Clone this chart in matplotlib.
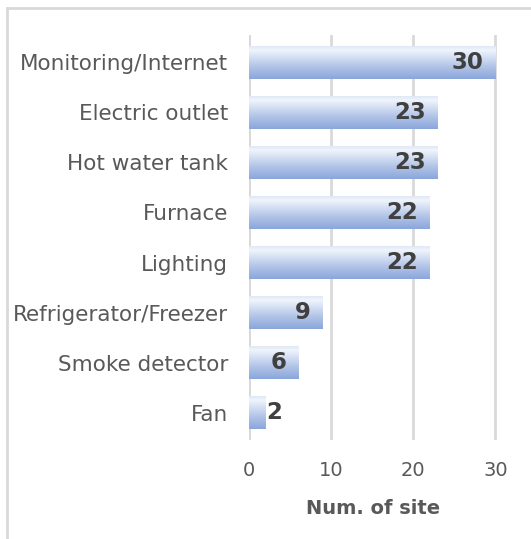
import matplotlib
matplotlib.use("Agg")
import matplotlib.pyplot as plt
import numpy as np
from matplotlib.colors import LinearSegmentedColormap
from matplotlib.lines import Line2D

plt.rcParams["font.family"] = ["DejaVu Sans"]

categories = ["Monitoring/Internet", "Electric outlet", "Hot water tank", "Furnace",
              "Lighting", "Refrigerator/Freezer", "Smoke detector", "Fan"]
values = [30, 23, 23, 22, 22, 9, 6, 2]
xticks = [0, 10, 20, 30]
xlabel = "Num. of site"

W, H = 531, 539
fig = plt.figure(figsize=(W / 100, H / 100), dpi=100)
ax = fig.add_axes([249 / W, 99 / H, 248 / W, 405 / H])

grad = LinearSegmentedColormap.from_list(
    "barfill",
    [(0.0, (0.86, 0.89, 0.96)), (0.15, (0.94, 0.96, 0.99)),
     (0.6, (0.71, 0.78, 0.91)), (1.0, (0.54, 0.65, 0.86))])

ypos = np.arange(len(categories))
bars = ax.barh(ypos, values, height=0.66, facecolor="none", edgecolor="none", zorder=3)
g = np.linspace(0, 1, 256).reshape(-1, 1)
for b in bars:
    x0, y0 = b.get_x(), b.get_y()
    w, h = b.get_width(), b.get_height()
    im = ax.imshow(g, cmap=grad, aspect="auto", extent=[x0, x0 + w, y0 + h, y0],
                   origin="upper", zorder=3, interpolation="bilinear")
    im.set_clip_path(b)

ax.set_xlim(0, 30.2)
ax.set_ylim(len(categories) - 0.46, -0.54)
ax.set_xticks(xticks)
ax.set_yticks(ypos)
ax.set_yticklabels(categories)

for sp in ax.spines.values():
    sp.set_visible(False)
ax.grid(axis="x", color="#d9d9d9", linewidth=2, zorder=0)
ax.axvline(0, color="#d9d9d9", linewidth=2, zorder=1)
ax.tick_params(axis="both", length=0, labelcolor="#595959")
ax.tick_params(axis="y", pad=15, labelsize=15.5)
ax.tick_params(axis="x", pad=15, labelsize=14)
ax.set_xlabel(xlabel, fontsize=14, fontweight="bold", color="#595959", labelpad=14)

for b, v in zip(bars, values):
    yc = b.get_y() + b.get_height() / 2
    if v >= 5:
        ax.annotate(str(v), (v, yc), xytext=(-12, 0), textcoords="offset pixels",
                    ha="right", va="center", fontsize=16.5, fontweight="bold",
                    color="#404040", zorder=5)
    else:
        ax.annotate(str(v), (v, yc), xytext=(1, 0), textcoords="offset pixels",
                    ha="left", va="center", fontsize=16.5, fontweight="bold",
                    color="#404040", zorder=5)

# chart frame (top and left edges)
fig.add_artist(Line2D([7 / W, 1.0], [1 - 8 / H, 1 - 8 / H], transform=fig.transFigure,
                      color="#d9d9d9", linewidth=2))
fig.add_artist(Line2D([7 / W, 7 / W], [0.0, 1 - 8 / H], transform=fig.transFigure,
                      color="#d9d9d9", linewidth=2))

fig.savefig("out.png", dpi=100)
